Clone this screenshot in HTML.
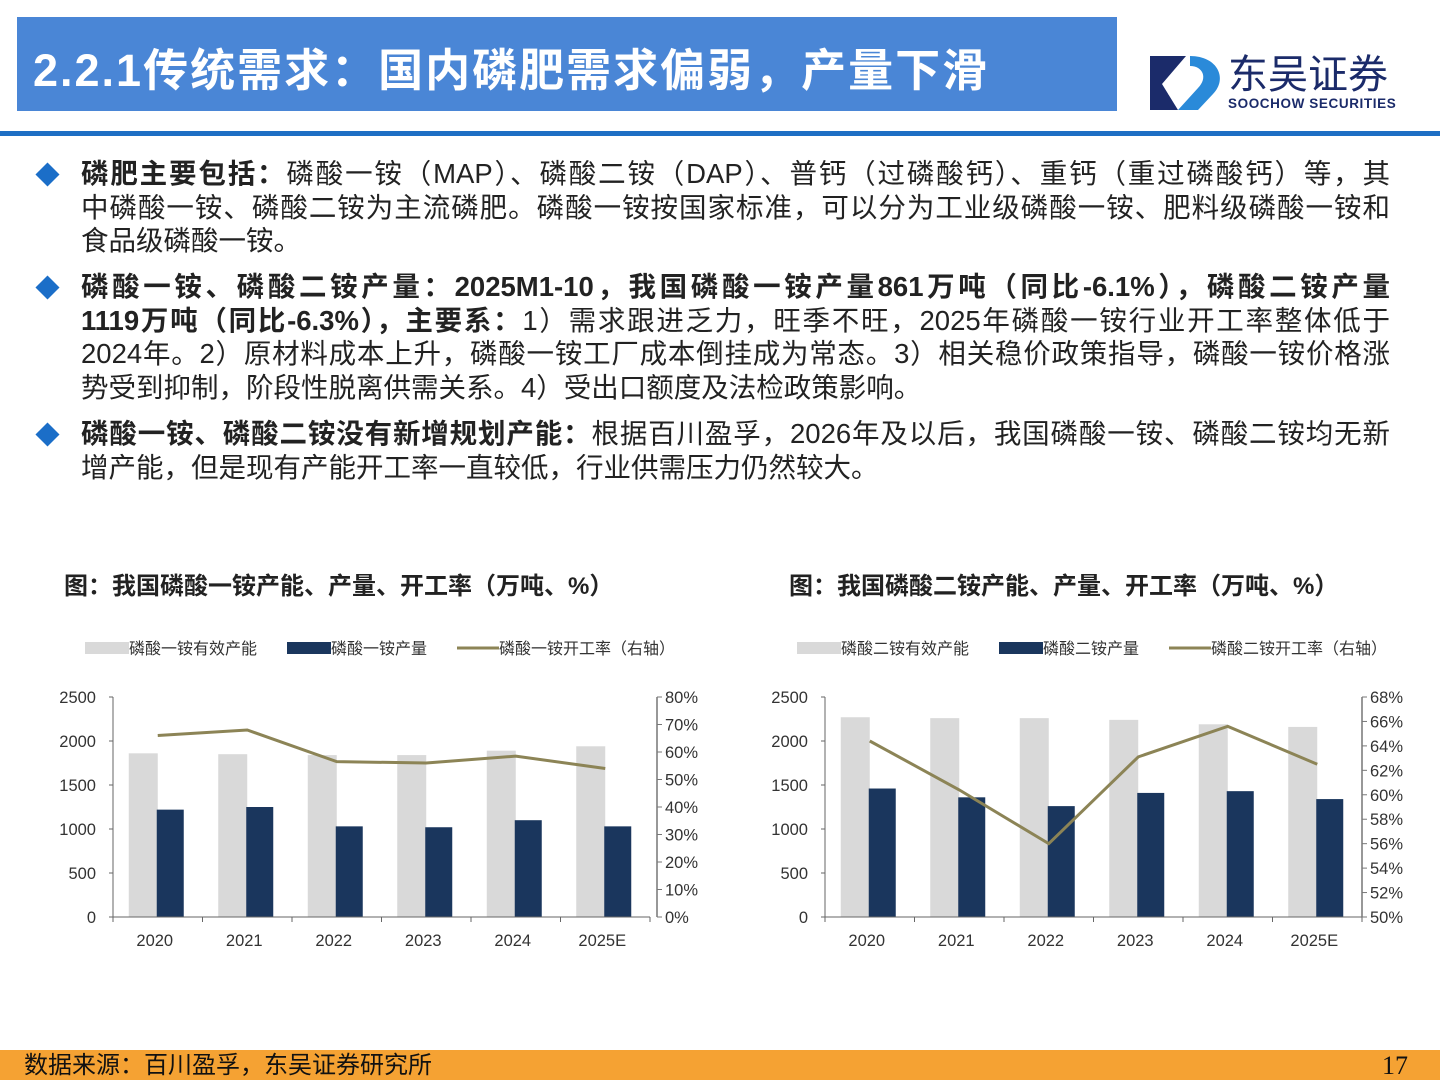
<!DOCTYPE html>
<html><head><meta charset="utf-8">
<style>
*{margin:0;padding:0;box-sizing:border-box}
body{width:1440px;height:1080px;position:relative;background:#fff;font-family:"Liberation Sans","Noto Sans CJK SC",sans-serif;overflow:hidden;color:#222}
.banner{position:absolute;left:17px;top:17px;width:1100px;height:94px;background:#4A86D6}
.banner h1{position:absolute;left:16px;top:17px;color:#fff;font-size:45px;font-weight:bold;white-space:nowrap;letter-spacing:2px}
.rule{position:absolute;left:0;top:131px;width:1440px;height:5px;background:#1E6FC4}
.item{position:absolute;left:81px;width:1309px;font-size:27.5px;line-height:33.5px;color:#222}
.item .ln{display:block;white-space:nowrap;text-align:justify;text-align-last:justify;width:1309px}
.item .last{text-align:left;text-align-last:left}
.item b{font-weight:bold}
.dia{position:absolute;left:-42px;top:9px;width:17px;height:17px;background:#1B6EC8;transform:rotate(45deg)}
.ctitle{position:absolute;font-size:24px;font-weight:bold;color:#222;white-space:nowrap}
.footer{position:absolute;left:0;top:1050px;width:1440px;height:30px;background:#F5A233}
.footer span{position:absolute;left:24px;top:-5px;font-size:24px;color:#111;white-space:nowrap}
.footer .pg{left:1382px;font-family:"Liberation Serif",serif;font-size:26px;top:1px}
</style></head><body>
<div class="banner"><h1>2.2.1传统需求：国内磷肥需求偏弱，产量下滑</h1></div>
<div style="position:absolute;left:1148px;top:54px;width:260px;height:60px">
<svg width="260" height="60" viewBox="0 0 260 60">
<path d="M2 2 H38 L14 30 L30 56 H2 Z" fill="#1B2B6A"/>
<path d="M42 2 C70 2 80 25 65 40 L50 56 H30 L50 34 C60 24 55 12 42 12 Z" fill="#2A8AD9"/>
<path d="M20 40 L40 18 C46 12 54 16 48 24 L30 46 Z" fill="#fff"/>
<text x="80" y="34" font-size="40" fill="#1B2B6A" font-family="'Noto Sans CJK SC',sans-serif">东吴证券</text>
<text x="80" y="54" font-size="13.5" font-weight="bold" fill="#1B2B6A" font-family="'Liberation Sans',sans-serif" letter-spacing="0.6">SOOCHOW SECURITIES</text>
</svg></div>
<div class="rule"></div>

<div class="item" style="top:157px"><div class="dia"></div>
<span class="ln"><b>磷肥主要包括：</b>磷酸一铵（MAP）、磷酸二铵（DAP）、普钙（过磷酸钙）、重钙（重过磷酸钙）等，其</span>
<span class="ln">中磷酸一铵、磷酸二铵为主流磷肥。磷酸一铵按国家标准，可以分为工业级磷酸一铵、肥料级磷酸一铵和</span>
<span class="ln last">食品级磷酸一铵。</span></div>
<div class="item" style="top:270px"><div class="dia"></div>
<span class="ln"><b>磷酸一铵、磷酸二铵产量：2025M1-10，我国磷酸一铵产量861万吨（同比-6.1%），磷酸二铵产量</b></span>
<span class="ln"><b>1119万吨（同比-6.3%），主要系：</b>1）需求跟进乏力，旺季不旺，2025年磷酸一铵行业开工率整体低于</span>
<span class="ln">2024年。2）原材料成本上升，磷酸一铵工厂成本倒挂成为常态。3）相关稳价政策指导，磷酸一铵价格涨</span>
<span class="ln last">势受到抑制，阶段性脱离供需关系。4）受出口额度及法检政策影响。</span></div>
<div class="item" style="top:417px"><div class="dia"></div>
<span class="ln"><b>磷酸一铵、磷酸二铵没有新增规划产能：</b>根据百川盈孚，2026年及以后，我国磷酸一铵、磷酸二铵均无新</span>
<span class="ln last">增产能，但是现有产能开工率一直较低，行业供需压力仍然较大。</span></div>

<div class="ctitle" style="left:64px;top:566px">图：我国磷酸一铵产能、产量、开工率（万吨、%）</div>
<div class="ctitle" style="left:789px;top:566px">图：我国磷酸二铵产能、产量、开工率（万吨、%）</div>

<svg id="charts" width="1440" height="1080" style="position:absolute;left:0;top:0"></svg>

<div class="footer"><span>数据来源：百川盈孚，东吴证券研究所</span><span class="pg">17</span></div>

<script>
const categories=["2020","2021","2022","2023","2024","2025E"];
const mapCapacity=[1860,1850,1840,1840,1890,1940];
const mapOutput=[1220,1250,1030,1020,1100,1030];
const mapRate=[66,68,56.5,56,58.5,54];
const dapCapacity=[2270,2260,2260,2240,2190,2160];
const dapOutput=[1460,1360,1260,1410,1430,1340];
const dapRate=[64.4,60.4,56.0,63.1,65.6,62.5];
const leftTicks=[0,500,1000,1500,2000,2500];
const mapRightTicks=[0,10,20,30,40,50,60,70,80];
const dapRightTicks=[50,52,54,56,58,60,62,64,66,68];
const NS="http://www.w3.org/2000/svg";
const svg=document.getElementById('charts');
function mk(tag,attrs,parent){const e=document.createElementNS(NS,tag);for(const k in attrs)e.setAttribute(k,attrs[k]);(parent||svg).appendChild(e);return e;}
function chart(cfg){
  const g=mk('g',{});
  
  
  const x0=cfg.x0,x1=cfg.x1,yTop=697,yBot=917;
  const n=categories.length,step=(x1-x0)/n;
  const cx=i=>x0+step*(i+0.5);
  const yL=v=>yBot-(v/2500)*(yBot-yTop);
  const rMin=cfg.rTicks[0],rMax=cfg.rTicks[cfg.rTicks.length-1];
  const yR=v=>yBot-((v-rMin)/(rMax-rMin))*(yBot-yTop);
  const lx=cfg.legX;
  let e=mk('rect',{x:lx,y:642,width:44,height:12,fill:'#D9D9D9'},g);
  
  e=mk('text',{x:lx+44,y:654,'font-size':16,fill:'#333'},g);e.textContent=cfg.legend[0];
  
  e=mk('rect',{x:lx+202,y:642,width:44,height:12,fill:'#1A365D'},g);
  
  e=mk('text',{x:lx+246,y:654,'font-size':16,fill:'#333'},g);e.textContent=cfg.legend[1];
  
  e=mk('line',{x1:lx+372,y1:648,x2:lx+414,y2:648,stroke:'#8C8456','stroke-width':3},g);
  
  e=mk('text',{x:lx+414,y:654,'font-size':16,fill:'#333'},g);e.textContent=cfg.legend[2];
  
  categories.forEach((c,i)=>{
    const cap=mk('rect',{x:cx(i)-29,y:yL(cfg.cap[i]),width:29,height:yBot-yL(cfg.cap[i]),fill:'#D9D9D9'},g);
    
    const out=mk('rect',{x:cx(i)-1,y:yL(cfg.out[i]),width:27,height:yBot-yL(cfg.out[i]),fill:'#1A365D'},g);
    
    const t=mk('text',{x:cx(i)-3,y:946,'font-size':16.5,fill:'#333','text-anchor':'middle'},g);t.textContent=c;
    
  });
  e=mk('line',{x1:x0,y1:yTop,x2:x0,y2:yBot,stroke:'#666','stroke-width':1},g);
  
  e=mk('line',{x1:x0,y1:yBot,x2:x1,y2:yBot,stroke:'#666','stroke-width':1},g);
  
  e=mk('line',{x1:cfg.rx,y1:yTop,x2:cfg.rx,y2:yBot,stroke:'#777','stroke-width':1.5},g);
  
  for(let i=0;i<=n;i++)mk('line',{x1:x0+step*i,y1:yBot,x2:x0+step*i,y2:yBot+5,stroke:'#666'},g);
  leftTicks.forEach(v=>{
    mk('line',{x1:x0-4,y1:yL(v),x2:x0,y2:yL(v),stroke:'#666'},g);
    const t=mk('text',{x:x0-17,y:yL(v)+6,'font-size':16.5,fill:'#333','text-anchor':'end'},g);t.textContent=v;
    
  });
  cfg.rTicks.forEach(v=>{
    mk('line',{x1:cfg.rx,y1:yR(v),x2:cfg.rx+5,y2:yR(v),stroke:'#777'},g);
    const t=mk('text',{x:cfg.rx+8,y:yR(v)+6,'font-size':16.5,fill:'#333'},g);t.textContent=v+'%';
    
  });
  const pts=cfg.rate.map((v,i)=>cx(i)+','+yR(v)).join(' ');
  e=mk('polyline',{points:pts,fill:'none',stroke:'#8C8456','stroke-width':3},g);
  
}
chart({name:'chart-map',x0:113,x1:650,rx:657,legX:85,cap:mapCapacity,out:mapOutput,rate:mapRate,rTicks:mapRightTicks,
  legend:['磷酸一铵有效产能','磷酸一铵产量','磷酸一铵开工率（右轴）']});
chart({name:'chart-dap',x0:825,x1:1362,rx:1362,legX:797,cap:dapCapacity,out:dapOutput,rate:dapRate,rTicks:dapRightTicks,
  legend:['磷酸二铵有效产能','磷酸二铵产量','磷酸二铵开工率（右轴）']});
</script>
</body></html>
